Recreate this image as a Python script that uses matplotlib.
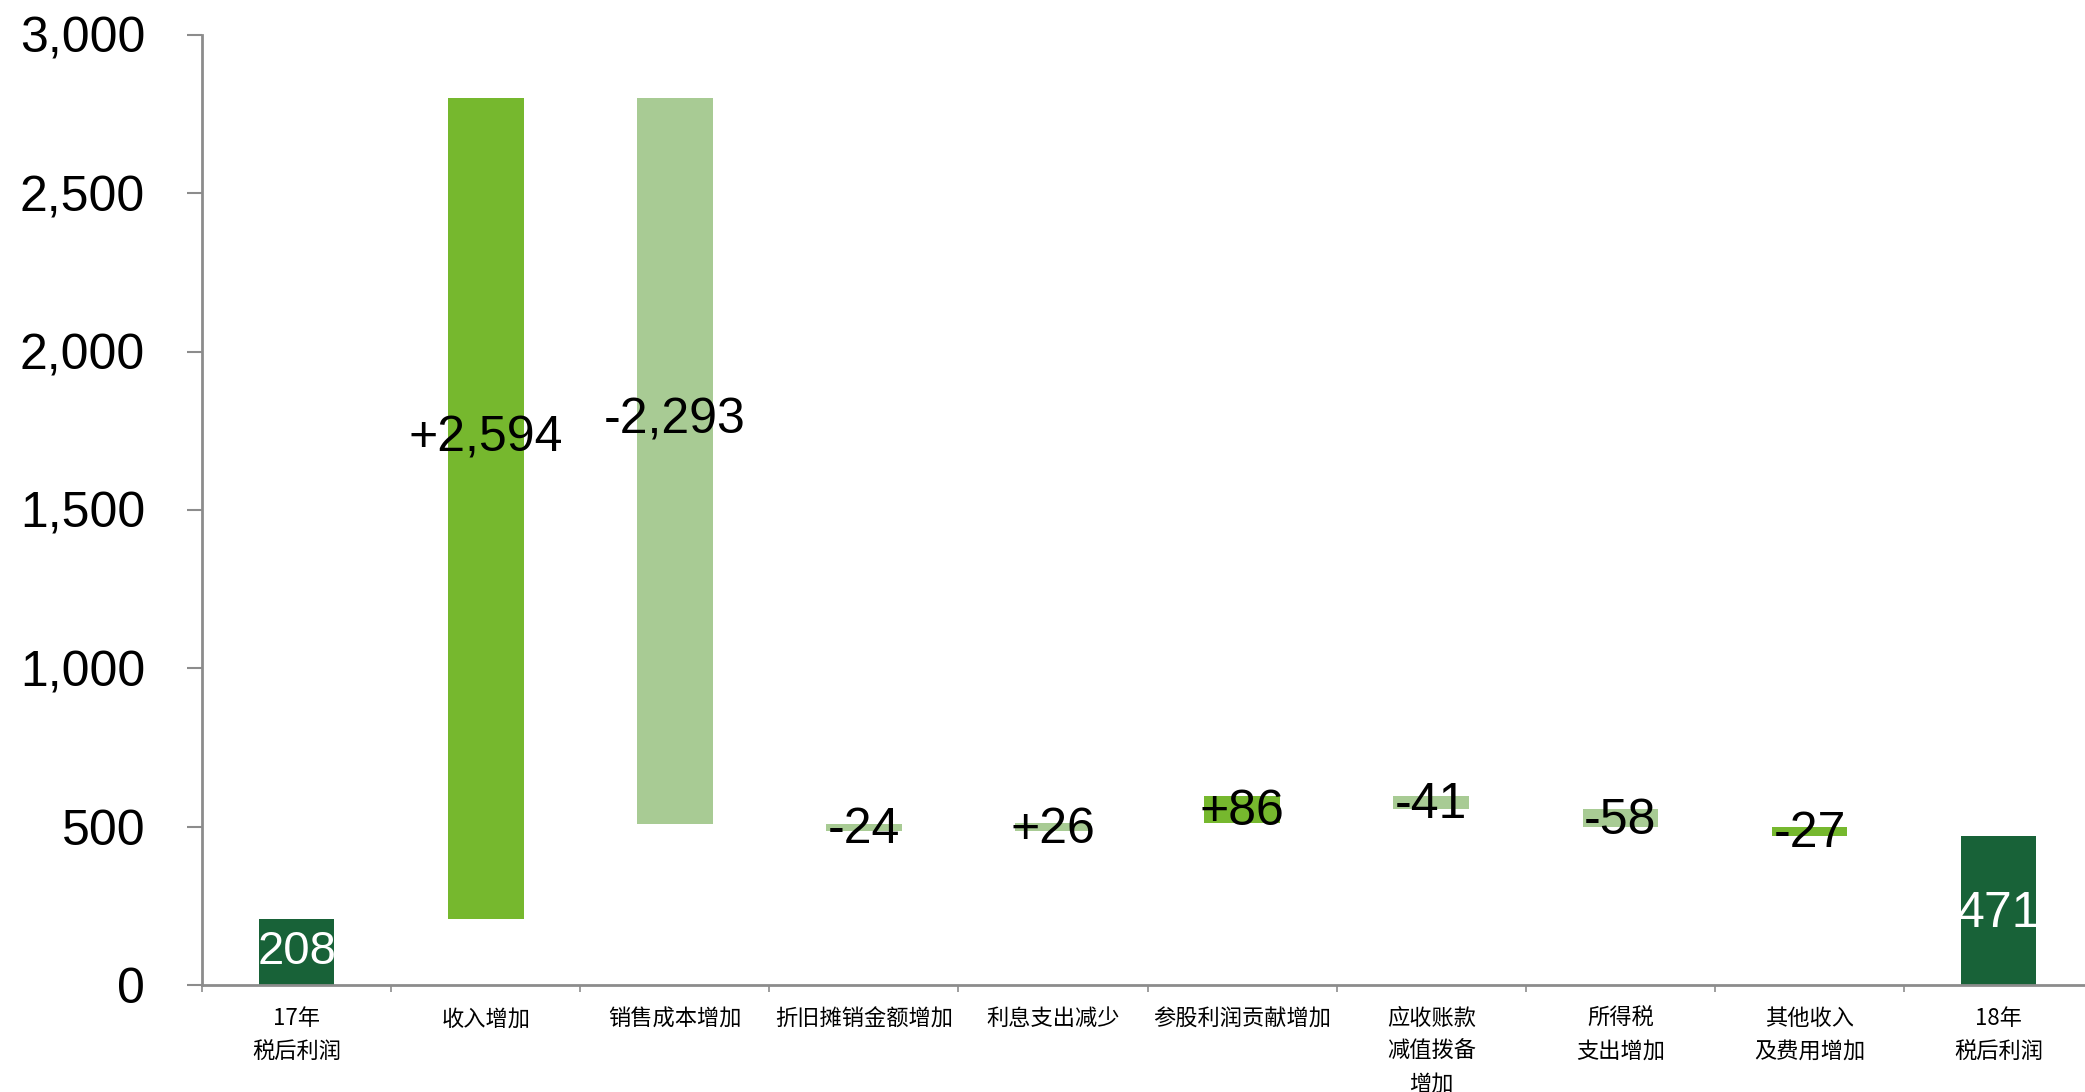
import numpy as np
import matplotlib
matplotlib.use("Agg")
import matplotlib.pyplot as plt
from matplotlib.ticker import FuncFormatter

# data
categories = ["17年\n税后利润", "收入增加", "销售成本增加", "折旧摊销金额增加", "利息支出减少",
              "参股利润贡献增加", "应收账款\n减值拨备\n增加", "所得税\n支出增加",
              "其他收入\n及费用增加", "18年\n税后利润"]
start_value = 208
changes = [2594, -2293, -24, 26, 86, -41, -58, -27]
end_value = 471
# colour group per change bar (as in the picture, not strictly by sign)
change_shade = ["bright", "light", "light", "light", "bright", "light", "light", "bright"]

dark = "#186238"
shades = {"bright": "#76B82E", "light": "#A8CB94"}
grey = "#8C8C8C"

fig = plt.figure(figsize=(20.85, 10.92), dpi=100)
ax = fig.add_axes([0.0969, 0.098, 0.907, 0.870])

x = np.arange(len(categories))
w = 0.40

# totals
ax.bar(x[0], start_value, width=w, color=dark, zorder=2)
ax.bar(x[-1], end_value, width=w, color=dark, zorder=2)

# floating change bars
level = start_value
bottoms = []
for i, c in enumerate(changes):
    lo = level if c > 0 else level + c
    bottoms.append(lo)
    ax.bar(x[i + 1], abs(c), bottom=lo, width=w, color=shades[change_shade[i]], zorder=2)
    level += c

big_font = ["Liberation Sans", "DejaVu Sans"]
narrow_font = ["Liberation Sans Narrow", "Liberation Sans", "DejaVu Sans"]

# labels on the totals
ax.text(x[0], start_value / 2, f"{start_value:,}", ha="center", va="center",
        color="white", fontsize=34, family=big_font, zorder=3)
ax.text(x[-1], end_value / 2 - 10, f"{end_value:,}", ha="center", va="center",
        color="white", fontsize=36, family=narrow_font, zorder=3)

# labels on the changes
for i, c in enumerate(changes):
    txt = f"{c:+,}"
    if abs(c) > 1000:
        y = bottoms[i] + abs(c) * (0.585 if c > 0 else 0.555)
        fam = big_font
    else:
        y = bottoms[i] + abs(c) / 2 - 8
        fam = narrow_font
    ax.text(x[i + 1], y, txt, ha="center", va="center", color="black",
            fontsize=36, family=fam, zorder=3)

ax.set_xlim(-0.5, len(categories) - 0.5)
ax.set_ylim(0, 3000)
ax.set_yticks(np.arange(0, 3001, 500))
ax.yaxis.set_major_formatter(FuncFormatter(lambda v, p: f"{int(v):,}"))

ax.set_xticks(x)
ax.set_xticklabels(categories, family=["Noto Sans CJK SC", "DejaVu Sans"],
                   fontsize=16, linespacing=1.55, va="top")
ax.set_xticks(np.arange(-0.5, len(categories), 1), minor=True)
ax.tick_params(axis="x", which="major", length=0, pad=16)
ax.tick_params(axis="x", which="minor", length=5, width=1.2, color=grey, direction="out")
ax.tick_params(axis="y", length=11, width=1.5, color=grey, pad=30, labelsize=36)
for lab in ax.get_yticklabels():
    lab.set_family(big_font)

for s in ["top", "right"]:
    ax.spines[s].set_visible(False)
for s in ["left", "bottom"]:
    ax.spines[s].set_color(grey)
    ax.spines[s].set_linewidth(2)

fig.savefig("out.png", dpi=100)
